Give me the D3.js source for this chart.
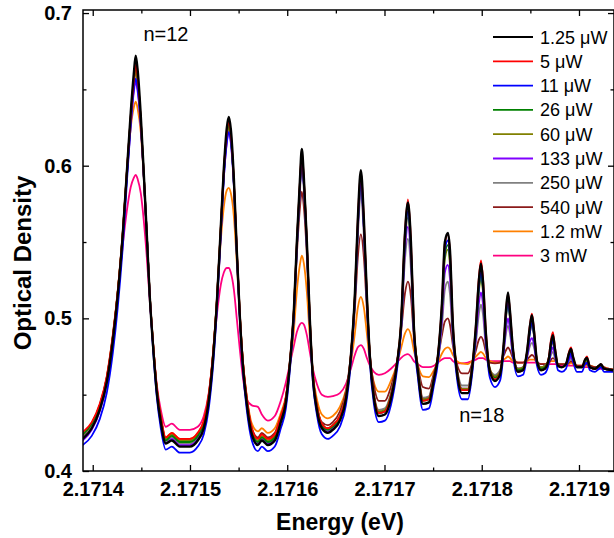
<!DOCTYPE html>
<html>
<head>
<meta charset="utf-8">
<script src="https://cdn.jsdelivr.net/npm/d3@7"></script>
<style>
  html, body { margin: 0; padding: 0; background: #fff; }
  svg { display: block; }
  text { font-family: "Liberation Sans", Arial, sans-serif; }
</style>
</head>
<body>
<svg id="chart" width="614" height="538"></svg>
<script>
// Photon energy grid (eV) shared by every spectrum
const energy = [
2.1713897, 2.1713990, 2.1714072, 2.1714144, 2.1714206, 2.1714257, 2.1714309, 2.1714350, 2.1714391, 2.1714422,
2.1714442, 2.1714463, 2.1714494, 2.1714525, 2.1714556, 2.1714586, 2.1714617, 2.1714658, 2.1714700, 2.1714751,
2.1714813, 2.1714895, 2.1714998, 2.1715080, 2.1715142, 2.1715193, 2.1715235, 2.1715276, 2.1715317, 2.1715348,
2.1715379, 2.1715399, 2.1715420, 2.1715451, 2.1715481, 2.1715512, 2.1715543, 2.1715584, 2.1715636, 2.1715698,
2.1715739, 2.1715800, 2.1715872, 2.1715934, 2.1715986, 2.1716027, 2.1716068, 2.1716099, 2.1716130, 2.1716150,
2.1716171, 2.1716202, 2.1716232, 2.1716263, 2.1716305, 2.1716356, 2.1716418, 2.1716469, 2.1716541, 2.1716603,
2.1716654, 2.1716695, 2.1716726, 2.1716757, 2.1716788, 2.1716819, 2.1716850, 2.1716891, 2.1716942, 2.1717004,
2.1717066, 2.1717128, 2.1717169, 2.1717210, 2.1717241, 2.1717272, 2.1717302, 2.1717344, 2.1717395, 2.1717457,
2.1717508, 2.1717549, 2.1717591, 2.1717621, 2.1717652, 2.1717673, 2.1717704, 2.1717745, 2.1717796, 2.1717858,
2.1717899, 2.1717940, 2.1717971, 2.1717992, 2.1718012, 2.1718043, 2.1718084, 2.1718136, 2.1718187, 2.1718228,
2.1718249, 2.1718270, 2.1718290, 2.1718321, 2.1718372, 2.1718424, 2.1718465, 2.1718496, 2.1718516, 2.1718537,
2.1718568, 2.1718609, 2.1718650, 2.1718691, 2.1718712, 2.1718732, 2.1718753, 2.1718784, 2.1718825, 2.1718866,
2.1718897, 2.1718918, 2.1718938, 2.1718979, 2.1719031, 2.1719062, 2.1719082, 2.1719113, 2.1719165, 2.1719206,
2.1719226, 2.1719257, 2.1719298, 2.1719350
];

// Optical density for each excitation power
const od_1_25uW = [
0.421, 0.428, 0.440, 0.458, 0.485, 0.515, 0.555, 0.595, 0.635, 0.660,
0.672, 0.662, 0.633, 0.595, 0.555, 0.515, 0.485, 0.452, 0.432, 0.418,
0.420, 0.416, 0.416, 0.420, 0.428, 0.446, 0.472, 0.510, 0.560, 0.598,
0.625, 0.632, 0.624, 0.592, 0.545, 0.502, 0.470, 0.444, 0.424, 0.417,
0.420, 0.417, 0.420, 0.432, 0.445, 0.470, 0.505, 0.550, 0.590, 0.611,
0.592, 0.550, 0.500, 0.462, 0.440, 0.428, 0.425, 0.427, 0.433, 0.447,
0.475, 0.515, 0.565, 0.597, 0.565, 0.515, 0.475, 0.448, 0.436, 0.437,
0.447, 0.470, 0.495, 0.555, 0.576, 0.550, 0.495, 0.465, 0.444, 0.445,
0.460, 0.475, 0.510, 0.550, 0.556, 0.545, 0.495, 0.465, 0.451, 0.451,
0.466, 0.495, 0.525, 0.536, 0.525, 0.490, 0.465, 0.459, 0.463, 0.485,
0.505, 0.517, 0.505, 0.480, 0.465, 0.466, 0.478, 0.495, 0.502, 0.492,
0.472, 0.466, 0.467, 0.474, 0.484, 0.489, 0.480, 0.469, 0.468, 0.470,
0.477, 0.480, 0.475, 0.468, 0.468, 0.473, 0.474, 0.468, 0.467, 0.469,
0.470, 0.467, 0.4665, 0.466
];
const od_5uW = [
0.4255, 0.432, 0.444, 0.462, 0.489, 0.518, 0.557, 0.596, 0.632, 0.655,
0.666, 0.657, 0.630, 0.594, 0.555, 0.516, 0.487, 0.455, 0.436, 0.422,
0.425, 0.421, 0.421, 0.425, 0.433, 0.450, 0.476, 0.512, 0.560, 0.597,
0.622, 0.629, 0.621, 0.591, 0.546, 0.504, 0.473, 0.448, 0.428, 0.421,
0.424, 0.421, 0.424, 0.436, 0.448, 0.472, 0.506, 0.550, 0.589, 0.609,
0.591, 0.550, 0.501, 0.464, 0.443, 0.431, 0.428, 0.430, 0.436, 0.449,
0.476, 0.515, 0.565, 0.596, 0.565, 0.515, 0.476, 0.450, 0.438, 0.439,
0.449, 0.471, 0.496, 0.556, 0.578, 0.551, 0.496, 0.466, 0.446, 0.447,
0.461, 0.476, 0.510, 0.549, 0.555, 0.544, 0.495, 0.466, 0.453, 0.453,
0.467, 0.496, 0.527, 0.538, 0.527, 0.491, 0.466, 0.460, 0.464, 0.485,
0.505, 0.516, 0.505, 0.480, 0.465, 0.466, 0.478, 0.496, 0.503, 0.493,
0.472, 0.466, 0.467, 0.475, 0.486, 0.491, 0.481, 0.469, 0.468, 0.470,
0.478, 0.481, 0.475, 0.468, 0.468, 0.473, 0.475, 0.468, 0.467, 0.469,
0.470, 0.467, 0.4665, 0.466
];
const od_11uW = [
0.417, 0.423, 0.434, 0.451, 0.477, 0.507, 0.547, 0.588, 0.627, 0.650,
0.657, 0.650, 0.627, 0.593, 0.555, 0.515, 0.483, 0.449, 0.428, 0.414,
0.416, 0.412, 0.412, 0.416, 0.424, 0.441, 0.467, 0.505, 0.555, 0.592,
0.616, 0.622, 0.616, 0.588, 0.543, 0.500, 0.467, 0.440, 0.420, 0.413,
0.416, 0.413, 0.416, 0.428, 0.441, 0.466, 0.501, 0.546, 0.586, 0.605,
0.588, 0.547, 0.497, 0.459, 0.437, 0.424, 0.421, 0.423, 0.429, 0.443,
0.471, 0.511, 0.560, 0.590, 0.560, 0.511, 0.471, 0.444, 0.432, 0.433,
0.443, 0.466, 0.491, 0.550, 0.570, 0.545, 0.491, 0.461, 0.440, 0.441,
0.456, 0.471, 0.506, 0.545, 0.551, 0.540, 0.491, 0.461, 0.447, 0.447,
0.462, 0.491, 0.521, 0.532, 0.521, 0.486, 0.461, 0.455, 0.459, 0.481,
0.501, 0.512, 0.501, 0.476, 0.462, 0.463, 0.475, 0.491, 0.498, 0.489,
0.469, 0.463, 0.464, 0.471, 0.481, 0.486, 0.477, 0.466, 0.465, 0.467,
0.474, 0.477, 0.472, 0.465, 0.465, 0.470, 0.471, 0.466, 0.465, 0.467,
0.468, 0.465, 0.465, 0.465
];
const od_26uW = [
0.424, 0.431, 0.443, 0.461, 0.488, 0.517, 0.556, 0.595, 0.632, 0.655,
0.665, 0.656, 0.630, 0.594, 0.555, 0.516, 0.486, 0.454, 0.434, 0.420,
0.423, 0.419, 0.419, 0.423, 0.431, 0.448, 0.474, 0.511, 0.559, 0.595,
0.620, 0.627, 0.619, 0.589, 0.544, 0.503, 0.471, 0.446, 0.426, 0.419,
0.422, 0.419, 0.422, 0.434, 0.447, 0.471, 0.505, 0.549, 0.588, 0.607,
0.590, 0.549, 0.500, 0.463, 0.442, 0.430, 0.427, 0.429, 0.435, 0.448,
0.475, 0.514, 0.562, 0.592, 0.562, 0.514, 0.475, 0.449, 0.438, 0.439,
0.449, 0.470, 0.495, 0.552, 0.570, 0.546, 0.495, 0.466, 0.446, 0.447,
0.461, 0.475, 0.507, 0.542, 0.548, 0.538, 0.493, 0.466, 0.453, 0.453,
0.467, 0.492, 0.520, 0.529, 0.520, 0.488, 0.466, 0.461, 0.464, 0.483,
0.501, 0.512, 0.501, 0.479, 0.466, 0.467, 0.477, 0.492, 0.498, 0.490,
0.472, 0.467, 0.468, 0.474, 0.482, 0.486, 0.479, 0.469, 0.468, 0.470,
0.476, 0.478, 0.474, 0.468, 0.468, 0.472, 0.473, 0.468, 0.467, 0.469,
0.469, 0.467, 0.4665, 0.466
];
const od_60uW = [
0.424, 0.431, 0.443, 0.461, 0.488, 0.517, 0.556, 0.594, 0.630, 0.653,
0.662, 0.654, 0.629, 0.594, 0.555, 0.516, 0.486, 0.454, 0.435, 0.421,
0.424, 0.420, 0.420, 0.424, 0.432, 0.449, 0.475, 0.511, 0.559, 0.595,
0.619, 0.626, 0.618, 0.589, 0.544, 0.503, 0.472, 0.447, 0.427, 0.420,
0.423, 0.420, 0.423, 0.435, 0.448, 0.471, 0.505, 0.548, 0.587, 0.606,
0.589, 0.548, 0.500, 0.464, 0.443, 0.431, 0.428, 0.430, 0.436, 0.449,
0.475, 0.513, 0.560, 0.590, 0.560, 0.513, 0.475, 0.450, 0.439, 0.440,
0.450, 0.470, 0.494, 0.549, 0.566, 0.543, 0.494, 0.467, 0.447, 0.448,
0.462, 0.475, 0.505, 0.539, 0.545, 0.535, 0.492, 0.467, 0.454, 0.454,
0.467, 0.491, 0.518, 0.526, 0.518, 0.487, 0.467, 0.462, 0.465, 0.483,
0.500, 0.510, 0.500, 0.479, 0.467, 0.468, 0.477, 0.491, 0.496, 0.489,
0.472, 0.468, 0.469, 0.474, 0.481, 0.485, 0.478, 0.469, 0.468, 0.470,
0.475, 0.477, 0.473, 0.468, 0.468, 0.471, 0.472, 0.468, 0.467, 0.469,
0.469, 0.467, 0.4665, 0.466
];
const od_133uW = [
0.420, 0.427, 0.439, 0.457, 0.484, 0.514, 0.553, 0.592, 0.627, 0.648,
0.655, 0.648, 0.626, 0.592, 0.554, 0.515, 0.485, 0.452, 0.432, 0.418,
0.421, 0.417, 0.417, 0.421, 0.429, 0.446, 0.472, 0.509, 0.556, 0.592,
0.615, 0.622, 0.615, 0.587, 0.543, 0.502, 0.470, 0.444, 0.424, 0.418,
0.421, 0.418, 0.421, 0.433, 0.446, 0.470, 0.504, 0.547, 0.585, 0.603,
0.587, 0.547, 0.499, 0.462, 0.441, 0.429, 0.426, 0.428, 0.434, 0.448,
0.474, 0.512, 0.558, 0.588, 0.558, 0.512, 0.474, 0.449, 0.438, 0.439,
0.449, 0.469, 0.492, 0.544, 0.560, 0.539, 0.492, 0.466, 0.447, 0.448,
0.461, 0.473, 0.500, 0.530, 0.535, 0.526, 0.488, 0.466, 0.454, 0.454,
0.467, 0.487, 0.510, 0.517, 0.510, 0.483, 0.466, 0.462, 0.465, 0.480,
0.493, 0.500, 0.493, 0.476, 0.467, 0.468, 0.475, 0.485, 0.487, 0.483,
0.471, 0.468, 0.469, 0.472, 0.478, 0.481, 0.476, 0.469, 0.468, 0.470,
0.473, 0.475, 0.472, 0.468, 0.468, 0.470, 0.471, 0.468, 0.467, 0.468,
0.469, 0.467, 0.4665, 0.466
];
const od_250uW = [
0.422, 0.429, 0.441, 0.459, 0.486, 0.516, 0.555, 0.594, 0.631, 0.653,
0.662, 0.654, 0.629, 0.594, 0.555, 0.516, 0.486, 0.453, 0.433, 0.419,
0.422, 0.418, 0.418, 0.422, 0.430, 0.447, 0.473, 0.510, 0.558, 0.594,
0.618, 0.625, 0.618, 0.589, 0.544, 0.502, 0.471, 0.446, 0.426, 0.419,
0.422, 0.419, 0.422, 0.434, 0.447, 0.470, 0.503, 0.545, 0.582, 0.600,
0.584, 0.545, 0.498, 0.462, 0.442, 0.431, 0.428, 0.430, 0.436, 0.450,
0.475, 0.510, 0.554, 0.582, 0.554, 0.510, 0.475, 0.451, 0.440, 0.441,
0.451, 0.470, 0.490, 0.538, 0.552, 0.532, 0.490, 0.468, 0.448, 0.449,
0.462, 0.472, 0.495, 0.519, 0.524, 0.516, 0.485, 0.467, 0.456, 0.456,
0.468, 0.484, 0.503, 0.509, 0.503, 0.480, 0.466, 0.463, 0.466, 0.479,
0.490, 0.495, 0.490, 0.475, 0.467, 0.467, 0.474, 0.482, 0.484, 0.481,
0.471, 0.468, 0.469, 0.472, 0.476, 0.478, 0.474, 0.469, 0.468, 0.470,
0.472, 0.474, 0.472, 0.468, 0.468, 0.470, 0.471, 0.468, 0.467, 0.468,
0.468, 0.467, 0.4665, 0.466
];
const od_540uW = [
0.423, 0.430, 0.442, 0.460, 0.487, 0.517, 0.556, 0.595, 0.633, 0.656,
0.666, 0.656, 0.630, 0.594, 0.555, 0.516, 0.487, 0.455, 0.435, 0.421,
0.424, 0.420, 0.420, 0.424, 0.432, 0.449, 0.475, 0.511, 0.560, 0.597,
0.620, 0.627, 0.619, 0.590, 0.545, 0.504, 0.473, 0.448, 0.428, 0.422,
0.425, 0.422, 0.425, 0.436, 0.448, 0.471, 0.503, 0.542, 0.572, 0.583,
0.573, 0.541, 0.497, 0.463, 0.443, 0.432, 0.430, 0.432, 0.439, 0.452,
0.476, 0.506, 0.540, 0.555, 0.540, 0.506, 0.476, 0.456, 0.446, 0.446,
0.455, 0.471, 0.490, 0.516, 0.524, 0.514, 0.488, 0.469, 0.455, 0.454,
0.464, 0.474, 0.489, 0.498, 0.500, 0.496, 0.482, 0.470, 0.464, 0.464,
0.470, 0.479, 0.486, 0.488, 0.486, 0.478, 0.471, 0.4705, 0.471, 0.476,
0.479, 0.481, 0.479, 0.474, 0.471, 0.471, 0.473, 0.475, 0.476, 0.475,
0.471, 0.470, 0.470, 0.471, 0.473, 0.474, 0.473, 0.470, 0.470, 0.470,
0.471, 0.472, 0.471, 0.469, 0.469, 0.470, 0.470, 0.469, 0.468, 0.468,
0.469, 0.468, 0.467, 0.4665
];
const od_1_2mW = [
0.423, 0.430, 0.442, 0.460, 0.487, 0.517, 0.555, 0.592, 0.625, 0.638,
0.642, 0.637, 0.622, 0.592, 0.555, 0.516, 0.487, 0.455, 0.436, 0.422,
0.425, 0.421, 0.421, 0.425, 0.433, 0.450, 0.475, 0.510, 0.551, 0.573,
0.584, 0.5855, 0.582, 0.567, 0.537, 0.502, 0.473, 0.449, 0.431, 0.426,
0.428, 0.425, 0.428, 0.438, 0.449, 0.468, 0.492, 0.518, 0.535, 0.541,
0.536, 0.517, 0.488, 0.464, 0.447, 0.437, 0.4345, 0.436, 0.442, 0.453,
0.470, 0.490, 0.507, 0.514, 0.507, 0.490, 0.471, 0.458, 0.452, 0.452,
0.459, 0.470, 0.480, 0.490, 0.493, 0.489, 0.479, 0.469, 0.462, 0.4615,
0.466, 0.471, 0.477, 0.480, 0.481, 0.480, 0.476, 0.472, 0.4705, 0.470,
0.472, 0.475, 0.477, 0.478, 0.477, 0.474, 0.472, 0.471, 0.471, 0.473,
0.474, 0.475, 0.474, 0.472, 0.471, 0.471, 0.472, 0.473, 0.473, 0.473,
0.471, 0.470, 0.470, 0.471, 0.472, 0.472, 0.472, 0.470, 0.470, 0.470,
0.470, 0.471, 0.470, 0.469, 0.469, 0.469, 0.469, 0.469, 0.468, 0.468,
0.468, 0.468, 0.467, 0.4665
];
const od_3mW = [
0.424, 0.431, 0.443, 0.461, 0.487, 0.515, 0.548, 0.570, 0.586, 0.592,
0.594, 0.591, 0.582, 0.564, 0.540, 0.512, 0.486, 0.457, 0.440, 0.429,
0.431, 0.427, 0.427, 0.429, 0.436, 0.451, 0.474, 0.502, 0.522, 0.530,
0.533, 0.533, 0.530, 0.519, 0.500, 0.480, 0.462, 0.447, 0.443, 0.442,
0.437, 0.433, 0.436, 0.446, 0.458, 0.470, 0.482, 0.491, 0.496, 0.497,
0.496, 0.489, 0.478, 0.467, 0.457, 0.450, 0.4485, 0.449, 0.451, 0.457,
0.467, 0.476, 0.481, 0.4825, 0.480, 0.474, 0.469, 0.465, 0.463, 0.464,
0.467, 0.471, 0.474, 0.476, 0.4765, 0.475, 0.472, 0.470, 0.468, 0.468,
0.469, 0.471, 0.473, 0.474, 0.474, 0.474, 0.472, 0.4705, 0.4705, 0.471,
0.472, 0.473, 0.474, 0.474, 0.474, 0.473, 0.472, 0.472, 0.472, 0.472,
0.472, 0.472, 0.472, 0.471, 0.471, 0.471, 0.471, 0.471, 0.471, 0.471,
0.471, 0.470, 0.470, 0.470, 0.470, 0.470, 0.470, 0.470, 0.469, 0.469,
0.469, 0.469, 0.469, 0.469, 0.468, 0.468, 0.468, 0.468, 0.468, 0.467,
0.467, 0.467, 0.467, 0.466
];

const seriesLabels = ["1.25 \u03bcW", "5 \u03bcW", "11 \u03bcW", "26 \u03bcW", "60 \u03bcW",
                      "133 \u03bcW", "250 \u03bcW", "540 \u03bcW", "1.2 mW", "3 mW"];
const seriesValues = [od_1_25uW, od_5uW, od_11uW, od_26uW, od_60uW,
                      od_133uW, od_250uW, od_540uW, od_1_2mW, od_3mW];
const seriesColors = ["#000000", "#ff0000", "#0000ff", "#008000", "#808000",
                      "#8000ff", "#808080", "#8b1a1a", "#ff8000", "#ff0080"];

const xMajorTicks = [2.1714, 2.1715, 2.1716, 2.1717, 2.1718, 2.1719];
const xMinorTicks = [2.17145, 2.17155, 2.17165, 2.17175, 2.17185];
const yMajorTicks = [0.4, 0.5, 0.6, 0.7];
const yMinorTicks = [0.45, 0.55, 0.65];

const stateLabels = [
  { text: "n=12", energy: 2.1714753, od: 0.682 },
  { text: "n=18", energy: 2.1718000, od: 0.432 }
];

// ---- layout ----
const svg = d3.select("#chart");
const plotLeft = 83, plotRight = 614, plotTop = 10, plotBottom = 471;

const x = d3.scaleLinear().domain([2.17139, 2.171936]).range([plotLeft, plotRight]);
const y = d3.scaleLinear().domain([0.4, 0.702]).range([plotBottom, plotTop]);

svg.append("rect").attr("width", 614).attr("height", 538).attr("fill", "#fff");

svg.append("defs").append("clipPath").attr("id", "plot-clip")
  .append("rect").attr("x", plotLeft).attr("y", plotTop)
  .attr("width", plotRight - plotLeft).attr("height", plotBottom - plotTop);

// ---- spectra (highest power drawn first, lowest power on top) ----
const line = d3.line()
  .x((d, i) => x(energy[i]))
  .y(d => y(d))
  .curve(d3.curveMonotoneX);

const curves = svg.append("g").attr("clip-path", "url(#plot-clip)");
for (let s = seriesValues.length - 1; s >= 0; s--) {
  curves.append("path")
    .datum(seriesValues[s])
    .attr("d", line)
    .attr("fill", "none")
    .attr("stroke", seriesColors[s])
    .attr("stroke-width", s === 0 ? 2.4 : 1.8)
    .attr("stroke-linejoin", "round");
}

// ---- axes: inward ticks on all four sides ----
function styleAxis(g) {
  g.selectAll(".domain").remove();
  g.selectAll(".tick line").attr("stroke", "#000").attr("stroke-width", 1.3);
  g.selectAll(".tick text")
    .attr("fill", "#000")
    .style("font-family", "'Liberation Sans', Arial, sans-serif")
    .style("font-weight", "bold")
    .style("font-size", "20px");
}

svg.append("g").attr("transform", `translate(0,${plotBottom})`)
  .call(d3.axisBottom(x).tickValues(xMajorTicks).tickSize(-6).tickPadding(11)
    .tickFormat(d3.format(".4f")))
  .call(styleAxis);
svg.append("g").attr("transform", `translate(0,${plotBottom})`)
  .call(d3.axisBottom(x).tickValues(xMinorTicks).tickSize(-3.5).tickFormat(""))
  .call(styleAxis);
svg.append("g").attr("transform", `translate(0,${plotTop})`)
  .call(d3.axisTop(x).tickValues(xMajorTicks).tickSize(-6).tickFormat(""))
  .call(styleAxis);
svg.append("g").attr("transform", `translate(0,${plotTop})`)
  .call(d3.axisTop(x).tickValues(xMinorTicks).tickSize(-3.5).tickFormat(""))
  .call(styleAxis);

svg.append("g").attr("transform", `translate(${plotLeft},0)`)
  .call(d3.axisLeft(y).tickValues(yMajorTicks).tickSize(-6).tickPadding(11)
    .tickFormat(d3.format(".1f")))
  .call(styleAxis);
svg.append("g").attr("transform", `translate(${plotLeft},0)`)
  .call(d3.axisLeft(y).tickValues(yMinorTicks).tickSize(-3.5).tickFormat(""))
  .call(styleAxis);
svg.append("g").attr("transform", `translate(${plotRight},0)`)
  .call(d3.axisRight(y).tickValues(yMajorTicks).tickSize(-6).tickFormat(""))
  .call(styleAxis);
svg.append("g").attr("transform", `translate(${plotRight},0)`)
  .call(d3.axisRight(y).tickValues(yMinorTicks).tickSize(-3.5).tickFormat(""))
  .call(styleAxis);

// frame
svg.append("rect")
  .attr("x", plotLeft).attr("y", plotTop)
  .attr("width", plotRight - plotLeft).attr("height", plotBottom - plotTop)
  .attr("fill", "none").attr("stroke", "#000").attr("stroke-width", 1.5);

// ---- axis titles ----
svg.append("text")
  .attr("x", 340).attr("y", 530)
  .attr("text-anchor", "middle")
  .style("font-weight", "bold").style("font-size", "23px")
  .text("Energy (eV)");

svg.append("text")
  .attr("transform", "translate(31,263) rotate(-90)")
  .attr("text-anchor", "middle")
  .style("font-weight", "bold").style("font-size", "24px")
  .text("Optical Density");

// ---- exciton state labels ----
svg.selectAll(".state").data(stateLabels).enter().append("text")
  .attr("class", "state")
  .attr("x", d => x(d.energy)).attr("y", d => y(d.od))
  .attr("text-anchor", "middle")
  .style("font-size", "20px")
  .text(d => d.text);

// ---- legend ----
const legend = svg.append("g").attr("transform", "translate(493,37)");
seriesLabels.forEach((label, i) => {
  const row = legend.append("g").attr("transform", `translate(0,${i * 24.3})`);
  row.append("line").attr("x1", 0).attr("x2", 40).attr("y1", 0).attr("y2", 0)
    .attr("stroke", seriesColors[i]).attr("stroke-width", i === 0 ? 2 : 1.8);
  row.append("text").attr("x", 47).attr("y", 6.5)
    .style("font-size", "18px")
    .text(label);
});
</script>
</body>
</html>
